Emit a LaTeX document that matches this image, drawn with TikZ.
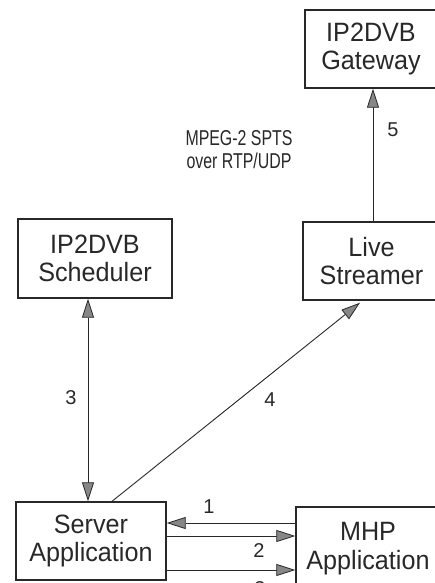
\documentclass[tikz,border=0pt]{standalone}
\usepackage{fontspec}
\setmainfont{Liberation Sans}
\newfontfamily\boxfont[FakeStretch=0.95]{Liberation Sans}
\newfontfamily\notefont[FakeStretch=0.74]{Liberation Sans}
\usetikzlibrary{arrows.meta,calc}
\definecolor{ink}{RGB}{40,40,40}
\definecolor{tipfill}{RGB}{135,135,135}
\tikzset{
  blk/.style={draw=ink, line width=1.4pt, align=center, inner sep=0pt,
    font=\boxfont\fontsize{26.5}{28.5}\selectfont, text=ink},
  arr/.style={draw=ink, line width=0.9pt, -{Triangle[length=19pt,width=12pt,fill=tipfill,line width=0.8pt]}},
  darr/.style={draw=ink, line width=0.9pt,
    {Triangle[length=19pt,width=12pt,fill=tipfill,line width=0.8pt]}-{Triangle[length=19pt,width=12pt,fill=tipfill,line width=0.8pt]}},
  lbl/.style={font=\fontsize{20}{22}\selectfont, text=ink, inner sep=0pt},
  note/.style={font=\notefont\fontsize{21.5}{23}\selectfont, text=ink, align=center, inner sep=0pt}
}
\begin{document}
\begin{tikzpicture}[x=1pt,y=-1pt]
\useasboundingbox (0,0) rectangle (435,583);
\clip (0,0) rectangle (435,583);
\node[blk, minimum width=132pt, minimum height=78pt] (gw) at (371,49) {IP2DVB\\Gateway};
\node[blk, minimum width=154pt, minimum height=79pt] (sched) at (95,258.5) {IP2DVB\\Scheduler};
\node[blk, minimum width=137pt, minimum height=78pt] (live) at (371.5,261) {Live\\Streamer};
\node[blk, minimum width=150pt, minimum height=78pt] (srv) at (91,541) {Server\\Application};
\node[blk, minimum width=144pt, minimum height=83pt] (mhp) at (368,548.5) {MHP\\Application};

\draw[arr] (live.north -| 373,0) -- (gw.south -| 373,0);
\draw[darr] (sched.south -| 88,0) -- (srv.north -| 88,0);
\draw[arr] (srv.north -| 112,0) -- ($(live.south -| 360,0)+(0,2)$);
\draw[arr] (mhp.west |- 0,523) -- (srv.east |- 0,523);
\draw[arr] (srv.east |- 0,536) -- (mhp.west |- 0,536);
\draw[arr] (srv.east |- 0,570) -- (mhp.west |- 0,570);

\node[note] (mpeg) at (239,150) {MPEG-2 SPTS\\over RTP/UDP};
\node[lbl] (l5) at (393,130) {5};
\node[lbl] (l3) at (71,398) {3};
\node[lbl] (l4) at (270,400) {4};
\node[lbl] (l1) at (209,507) {1};
\node[lbl] (l2) at (259,551) {2};
\node[lbl] (l3b) at (260,589) {3};
\end{tikzpicture}
\end{document}
